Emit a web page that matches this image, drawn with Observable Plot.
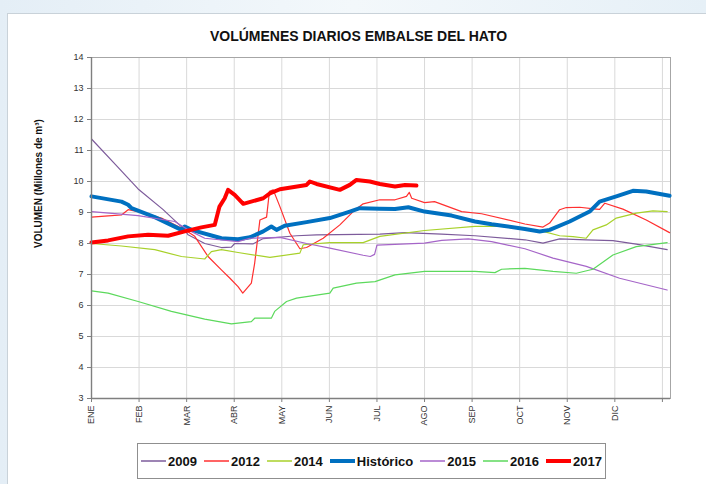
<!DOCTYPE html>
<html><head><meta charset="utf-8">
<script src="https://cdn.jsdelivr.net/npm/d3@7"></script>
<script src="https://cdn.jsdelivr.net/npm/@observablehq/plot@0.6"></script>
<style>
html,body{margin:0;padding:0;}
body{width:706px;height:484px;background:linear-gradient(90deg,#e4eef6,#f3f8fb 50%,#e6f0f7);position:relative;overflow:hidden;font-family:"Liberation Sans",Arial,sans-serif;}
#panel{position:absolute;left:7px;top:13px;width:699px;height:471px;background:#fff;border-left:1px solid #c9d2d9;border-top:1px solid #c9d2d9;}
#title{position:absolute;left:0;width:717px;top:28px;text-align:center;font-weight:bold;font-size:14px;color:#111;line-height:16px;}
#chart{position:absolute;left:0;top:0;}
#legend{position:absolute;left:137px;top:443px;width:469px;height:36px;border:1px solid #8f8f8f;box-sizing:border-box;display:flex;align-items:center;justify-content:center;background:#fff;}
.item{display:flex;align-items:center;margin-right:7px;font-weight:bold;font-size:13px;color:#111;}
.item:last-child{margin-right:0;}
.item svg{margin-right:2px;}
</style>
</head><body>
<div id="panel"></div>
<div id="chart"></div>
<div id="title">VOLÚMENES DIARIOS EMBALSE DEL HATO</div>
<div id="legend"></div>
<script>
// x = month index (0 = 1 ENE), y = volume (millones de m³)
const monthLabels = ["ENE","FEB","MAR","ABR","MAY","JUN","JUL","AGO","SEP","OCT","NOV","DIC",""];
const yTickValues = [3,4,5,6,7,8,9,10,11,12,13,14];
const yTitle = "VOLUMEN (Millones de m³)";

const s2009 = [[0,11.37],[0.5,10.55],[0.98,9.76],[1.5,9.1],[1.96,8.44],[2.03,8.28],[2.38,8.0],[2.73,7.87],[2.94,7.88],[3.01,8.0],[3.4,7.99],[3.61,8.16],[4.31,8.25],[4.73,8.28],[6.06,8.3],[6.59,8.35],[7.36,8.3],[8.06,8.25],[9.11,8.12],[9.49,8.01],[9.84,8.15],[10.4,8.12],[10.96,8.09],[11.45,7.98],[12.1,7.8]];
const s2012 = [[0,8.85],[0.35,8.89],[0.63,8.92],[0.77,9.09],[0.98,9.03],[1.47,8.82],[1.96,8.44],[2.17,8.23],[2.45,7.58],[2.73,7.15],[2.91,6.88],[3.08,6.61],[3.18,6.4],[3.36,6.72],[3.43,7.37],[3.54,8.76],[3.68,8.85],[3.74,9.68],[3.82,9.73],[3.96,9.19],[4.17,8.33],[4.38,7.83],[4.52,7.87],[4.87,8.17],[5.22,8.6],[5.5,9.03],[5.71,9.28],[6.06,9.41],[6.38,9.41],[6.62,9.52],[6.68,9.65],[6.73,9.46],[7.0,9.32],[7.21,9.35],[7.78,9.03],[8.2,8.96],[9.11,8.63],[9.49,8.53],[9.63,8.66],[9.84,9.09],[9.98,9.16],[10.26,9.17],[10.61,9.11],[10.68,9.1],[10.79,9.3],[11.17,9.11],[11.66,8.76],[12.15,8.35]];
const s2014 = [[0,8.0],[0.63,7.92],[1.33,7.8],[1.89,7.58],[2.38,7.5],[2.52,7.74],[2.73,7.8],[3.08,7.71],[3.75,7.55],[4.38,7.69],[4.45,7.96],[5.01,8.03],[5.71,8.03],[6.06,8.23],[7.0,8.42],[8.06,8.55],[8.62,8.55],[9.49,8.39],[9.84,8.25],[10.12,8.22],[10.4,8.17],[10.54,8.44],[10.82,8.6],[11.03,8.82],[11.45,8.98],[11.8,9.05],[12.1,9.03]];
const sHistorico = [[0,9.52],[0.63,9.35],[0.77,9.25],[0.84,9.14],[1.33,8.85],[1.89,8.44],[1.96,8.55],[2.1,8.44],[2.73,8.17],[3.08,8.14],[3.33,8.2],[3.61,8.39],[3.78,8.55],[3.89,8.44],[4.06,8.57],[4.52,8.69],[5.01,8.82],[5.43,9.03],[5.64,9.14],[6.06,9.12],[6.38,9.11],[6.66,9.17],[7.0,9.03],[7.57,8.9],[8.06,8.71],[8.41,8.62],[9.11,8.47],[9.42,8.39],[9.63,8.44],[10.05,8.71],[10.47,9.03],[10.68,9.35],[11.03,9.52],[11.38,9.7],[11.66,9.68],[12.15,9.54]];
const s2015 = [[0,9.03],[0.98,8.9],[1.75,8.71],[2.03,8.44],[2.38,8.17],[3.08,8.06],[3.33,8.17],[3.96,8.2],[4.52,8.0],[5.01,7.85],[5.71,7.62],[5.86,7.58],[5.95,7.65],[6.0,7.95],[7.0,8.01],[7.36,8.1],[7.92,8.15],[8.41,8.06],[9.11,7.83],[9.7,7.53],[10.4,7.26],[11.1,6.88],[12.1,6.5]];
const s2016 = [[0,6.47],[0.35,6.4],[0.98,6.13],[1.68,5.81],[2.38,5.56],[2.94,5.41],[3.36,5.48],[3.43,5.59],[3.78,5.59],[3.85,5.81],[4.1,6.13],[4.31,6.24],[5.01,6.4],[5.08,6.56],[5.57,6.72],[5.96,6.77],[6.38,6.99],[7.0,7.1],[8.06,7.1],[8.48,7.06],[8.62,7.17],[9.11,7.2],[9.7,7.1],[10.19,7.04],[10.54,7.17],[10.96,7.63],[11.45,7.9],[12.1,8.03]];
const s2017 = [[0,8.03],[0.35,8.1],[0.77,8.23],[1.19,8.28],[1.61,8.25],[1.96,8.39],[2.31,8.52],[2.59,8.6],[2.69,9.19],[2.8,9.46],[2.87,9.73],[3.01,9.57],[3.19,9.28],[3.61,9.46],[3.75,9.62],[3.96,9.75],[4.52,9.89],[4.59,10.0],[4.73,9.92],[5.22,9.73],[5.43,9.89],[5.57,10.05],[5.85,10.0],[6.06,9.92],[6.38,9.84],[6.59,9.89],[6.83,9.87]];

const seriesNames = ["2009","2012","2014","Histórico","2015","2016","2017"];
const seriesData = [s2009, s2012, s2014, sHistorico, s2015, s2016, s2017];
const seriesColors = ["#7d5b9b","#ff3030","#a8d12a","#0070c0","#a565c8","#5cd95c","#ff0000"];
const seriesWidths = [1.2,1.2,1.2,4,1.2,1.2,4];

const lineMarks = seriesData.map((d, i) => Plot.line(d, {x: p => p[0], y: p => p[1], stroke: seriesColors[i], strokeWidth: seriesWidths[i], strokeLinejoin: "round", strokeLinecap: "round"}));

const chart = Plot.plot({
  width: 706, height: 440,
  marginLeft: 91, marginRight: 36, marginTop: 57, marginBottom: 42,
  style: {fontFamily: "Liberation Sans, Arial, sans-serif", background: "transparent", color: "#333"},
  x: {domain: [0, 12.17]},
  y: {domain: [3, 14]},
  marks: [
    Plot.gridY(yTickValues, {stroke: "#d9d9d9", strokeOpacity: 1}),
    Plot.gridX(d3.range(1, 13), {stroke: "#d9d9d9", strokeOpacity: 1}),
    Plot.frame({stroke: "#a6a6a6"}),
    ...lineMarks,
    Plot.ruleX([0], {stroke: "#7f7f7f", strokeWidth: 1.4}),
    Plot.ruleY([3], {stroke: "#7f7f7f", strokeWidth: 1.4}),
    Plot.axisY(yTickValues, {tickSize: 4, tickPadding: 4, fontSize: 9, stroke: "#7f7f7f", fill: "#333", label: null}),
    Plot.axisX(d3.range(0, 13), {tickFormat: i => monthLabels[i], tickRotate: -90, tickSize: 4, tickPadding: 3, fontSize: 9, stroke: "#7f7f7f", fill: "#333", label: null}),
    Plot.text([yTitle], {frameAnchor: "left", dx: -53, dy: 20, rotate: -90, fontWeight: "bold", fontSize: 10, fill: "#111"})
  ]
});
document.getElementById("chart").appendChild(chart);

const legend = document.getElementById("legend");
seriesNames.forEach((n, i) => {
  const it = document.createElement("div");
  it.className = "item";
  it.innerHTML = `<svg width="25" height="8"><line x1="0" x2="25" y1="4" y2="4" stroke="${seriesColors[i]}" stroke-width="${seriesWidths[i] > 2 ? 4 : 1.5}"/></svg><span>${n}</span>`;
  legend.appendChild(it);
});
</script>
</body></html>
